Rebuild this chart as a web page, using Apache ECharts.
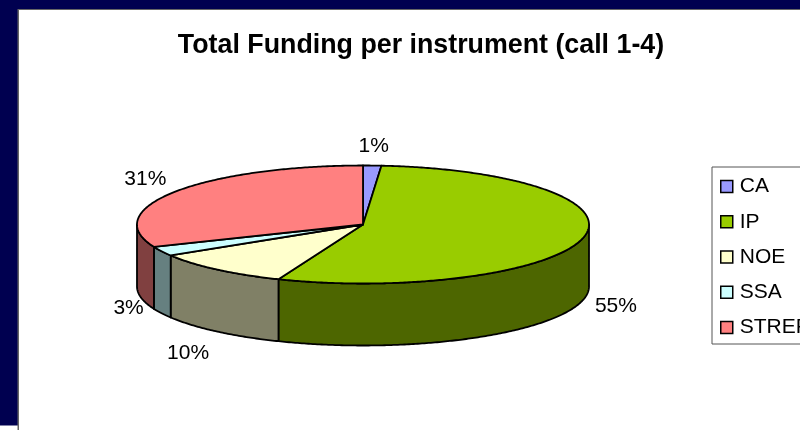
<!DOCTYPE html>
<html><head><meta charset="utf-8">
<style>html,body{margin:0;padding:0;background:#fff}#c{width:800px;height:430px}</style>
<script src="https://cdn.jsdelivr.net/npm/echarts@6/dist/echarts.min.js"></script>
</head><body><div id="c"></div>
<script>
const categories = ['CA','IP','NOE','SSA','STREP'];
const values = [1.3,54.8,10.1,2.6,31.2];
const colors = ['#9999FF','#99CC00','#FFFFCC','#CCFFFF','#FF8080'];
const title = 'Total Funding per instrument (call 1-4)';

const FONT = '"Liberation Sans", Arial, sans-serif';
const CX=363, CY=224.5, RX=226, RY=59, DEPTH=62, LRX=262, LRY=80;
const labelNudge = [[0,2],[-2,1],[-6,6],[-1,-15],[0,-1]];
const total = values.reduce((a,b)=>a+b,0);
const pt=(t,dy)=>[CX+RX*Math.sin(t),CY-RY*Math.cos(t)+(dy||0)];
const dark=c=>'#'+[1,3,5].map(i=>Math.round(parseInt(c.substr(i,2),16)/2).toString(16).padStart(2,'0')).join('');
function arc(a,b,dy){const n=Math.max(2,Math.ceil((b-a)/0.01));const r=[];for(let i=0;i<=n;i++)r.push(pt(a+(b-a)*i/n,dy));return r;}

function renderSlice(idx){
  return function(params,api){
    let cum=0;for(let i=0;i<idx;i++)cum+=values[i];
    const a=cum/total*2*Math.PI,b=(cum+values[idx])/total*2*Math.PI;
    const children=[];
    const wa=Math.max(a,Math.PI/2),wb=Math.min(b,1.5*Math.PI);
    if(wb>wa){
      const top=arc(wa,wb,0),bot=arc(wa,wb,DEPTH).reverse();
      children.push({type:'polygon',shape:{points:top.concat(bot)},style:{fill:dark(colors[idx]),stroke:'#000',lineWidth:1.8,lineJoin:'round'}});
    }
    children.push({type:'polygon',shape:{points:[[CX,CY]].concat(arc(a,b,0))},style:{fill:colors[idx],stroke:'#000',lineWidth:1.8,lineJoin:'round'}});
    const m=(a+b)/2,front=Math.cos(m)<0;
    children.push({type:'text',style:{
      text:Math.round(values[idx]/total*100)+'%',
      x:CX+LRX*Math.sin(m)+labelNudge[idx][0],
      y:CY-LRY*Math.cos(m)+(front?DEPTH:0)+labelNudge[idx][1],
      align:'center',verticalAlign:'middle',fontFamily:FONT,fontSize:21,fill:'#000'},z2:10});
    return {type:'group',children};
  };
}

const chart=echarts.init(document.getElementById('c'),null,{renderer:'canvas'});
chart.setOption({
  animation:false,
  backgroundColor:'#fff',
  color:colors,
  title:{text:title,left:416,top:27,textAlign:'center',textStyle:{fontFamily:FONT,fontSize:26.8,fontWeight:'bold',color:'#000'}},
  legend:{orient:'vertical',left:712,top:167,padding:[8,9,5,8],itemWidth:12,itemHeight:12,itemGap:12.25,
    backgroundColor:'#fff',borderColor:'#555',borderWidth:1,icon:'rect',
    itemStyle:{borderColor:'#000',borderWidth:1.5},
    textStyle:{fontFamily:FONT,fontSize:21,color:'#000',padding:[0,0,5,2],lineHeight:18},
    data:categories},
  graphic:[
    {type:'rect',z:-5,shape:{x:0,y:0,width:800,height:9},style:{fill:'#000050'}},
    {type:'rect',z:-5,shape:{x:0,y:0,width:18,height:425.5},style:{fill:'#000050'}},
    {type:'rect',z:-4,shape:{x:18,y:9,width:782,height:1},style:{fill:'#666'}},
    {type:'rect',z:-4,shape:{x:17.5,y:9,width:1.5,height:421},style:{fill:'#666'}}
  ],
  series:categories.map((name,i)=>({
    type:'custom',name,coordinateSystem:'none',z:2,
    itemStyle:{color:colors[i]},
    data:[{name,value:values[i]}],
    renderItem:renderSlice(i),silent:true
  }))
});
</script></body></html>
